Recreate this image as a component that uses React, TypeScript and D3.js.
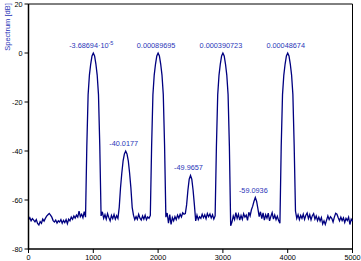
import React from "react";
import * as d3 from "d3";

const FREQ_STEP = 20;
const spectrum: number[] = [
  // 0 - 880 Hz
  -68.0, -67.2, -68.5, -67.6, -68.2, -68.9, -68.0, -69.6, -70.2, -68.8,
  -69.5, -67.8, -68.6, -67.5, -66.6, -66.0, -65.5, -66.2, -67.0, -68.4,
  -69.0, -68.2, -69.4, -68.5, -69.0, -68.0, -69.5, -68.3, -69.2, -68.0,
  -69.7, -67.8, -68.5, -67.0, -67.9, -66.5, -67.4, -66.2, -67.0, -64.5,
  -66.8, -65.8, -67.2, -64.8, -67.0,
  // 900 - 1100
  -38, -17, -9, -4.5, -1.2, 0, -1.2, -4.5, -9, -17, -38,
  // 1120 - 1380
  -66.5, -64.8, -67.5, -66.0, -67.8, -65.6, -67.2, -68.5, -66.3, -67.6,
  -65.9, -67.8, -66.4, -67.5,
  // 1400 - 1600
  -63, -55, -49, -44, -41.2, -40, -41.2, -44, -49, -55, -63,
  // 1620 - 1880
  -66.2, -68.0, -66.8, -67.9, -65.8, -67.4, -68.2, -66.5, -67.8, -66.2,
  -68.0, -66.9, -67.5, -66.3,
  // 1900 - 2100
  -38, -17, -9, -4.5, -1.2, 0, -1.2, -4.5, -9, -17, -38,
  // 2120 - 2420
  -67.0, -65.3, -69.5, -66.0, -70.0, -67.2, -68.5, -66.8, -68.0, -66.2,
  -67.4, -65.8, -66.9, -65.2, -65.8, -65.5,
  // 2440 - 2560
  -62, -56, -51.5, -50, -51.5, -56, -62,
  // 2580 - 2880
  -68.5, -66.2, -68.0, -66.8, -67.5, -65.8, -67.2, -66.0, -67.6, -65.5,
  -66.8, -65.7, -67.3, -66.0, -67.8, -66.5,
  // 2900 - 3100
  -38, -17, -9, -4.5, -1.2, 0, -1.2, -4.5, -9, -17, -38,
  // 3120 - 3400
  -70.5, -69.0, -66.5, -68.0, -65.2, -67.5, -65.8, -68.2, -66.3, -67.9,
  -65.6, -67.0, -66.2, -68.3, -65.0,
  // 3420 - 3580
  -66.5, -64.0, -62.5, -60.5, -59, -60.5, -63.5, -66.8, -64.8,
  // 3600 - 3880
  -67.6, -65.3, -68.2, -66.0, -67.4, -65.4, -68.5, -66.7, -65.2, -67.8,
  -66.1, -68.0, -66.6, -68.4, -69.5,
  // 3900 - 4100
  -38, -17, -9, -4.5, -1.2, 0, -1.2, -4.5, -9, -17, -38,
  // 4120 - 5000
  -64.5, -67.5, -66.0, -68.0, -66.3, -67.5, -65.8, -67.9, -66.2, -65.3,
  -67.6, -66.0, -68.1, -66.4, -65.6, -67.8, -66.5, -68.4, -67.0, -68.6,
  -67.2, -69.8, -68.5, -70.0, -68.2, -66.5, -68.0, -66.8, -67.5, -69.0,
  -67.0, -65.4, -65.8, -67.2, -68.5, -67.0, -68.4, -67.3, -69.2, -67.5,
  -68.4, -67.0, -70.0, -67.8, -68.6,
];

const peakFreqs = [1000, 1500, 2000, 2500, 3000, 3500, 4000];
const peakValues = [-3.68694e-5, -40.0177, 0.00089695, -49.9657, 0.000390723, -59.0936, 0.00048674];
const peakLabels = ["-3.68694·10^-5", "-40.0177", "0.00089695", "-49.9657", "0.000390723", "-59.0936", "0.00048674"];

const xTicks = [0, 1000, 2000, 3000, 4000, 5000];
const yTicks = [20, 0, -20, -40, -60, -80];

const W = 361;
const H = 261;
const FONT = "'Liberation Sans', Arial, sans-serif";
const LINE = "#000080";
const TEXTBLUE = "#2a36b8";

export default function App() {
  const x = d3.scaleLinear().domain([0, 5000]).range([28.5, 352.5]);
  const y = d3.scaleLinear().domain([-80, 20]).range([249, 4]);
  const line = d3
    .line<number>()
    .x((_, i) => x(i * FREQ_STEP))
    .y((d) => y(d));

  return (
    <svg
      width={W}
      height={H}
      style={{ position: "absolute", left: 0, top: 0, background: "#fff" }}
      fontFamily={FONT}
    >
      <rect x={0} y={0} width={W} height={H} fill="#fff" />
      {/* frame */}
      <line x1={x(0)} x2={x(5000)} y1={y(20)} y2={y(20)} stroke="#000" strokeWidth={1} />
      <line x1={x(5000)} x2={x(5000)} y1={y(20)} y2={y(-80)} stroke="#000" strokeWidth={1} />
      <path d={line(spectrum) || ""} fill="none" stroke={LINE} strokeWidth={1.3} strokeLinejoin="miter" />
      <line x1={x(0)} x2={x(0)} y1={y(20)} y2={y(-80) + 0.7} stroke="#000" strokeWidth={1.5} />
      <line x1={x(0)} x2={x(5000)} y1={y(-80)} y2={y(-80)} stroke="#000" strokeWidth={1.5} />
      {/* y ticks */}
      {yTicks.map((t) => (
        <g key={"y" + t}>
          <line x1={x(0) - 4} x2={x(0)} y1={y(t)} y2={y(t)} stroke="#000" strokeWidth={1} />
          <text x={x(0) - 6} y={y(t)} dy="0.35em" textAnchor="end" fontSize={7.3} fill="#000">
            {t}
          </text>
        </g>
      ))}
      {/* x ticks */}
      {xTicks.map((t) => (
        <g key={"x" + t}>
          <line x1={x(t)} x2={x(t)} y1={y(-80)} y2={y(-80) + 4} stroke="#000" strokeWidth={1} />
          <text x={x(t)} y={259.5} textAnchor="middle" fontSize={7.3} fill="#000">
            {t}
          </text>
        </g>
      ))}
      {/* y title */}
      <text
        transform={`translate(9.5, 27) rotate(-90)`}
        textAnchor="middle"
        fontSize={7.5}
        fill={TEXTBLUE}
      >
        Spectrum [dB]
      </text>
      {/* peak labels */}
      {peakFreqs.map((f, i) => {
        const parts = peakLabels[i].split("^");
        return (
          <text
            key={"p" + f}
            x={x(f) - 2}
            y={y(peakValues[i]) - 5}
            textAnchor="middle"
            fontSize={7.3}
            fill={TEXTBLUE}
          >
            {parts[0]}
            {parts[1] ? (
              <tspan dy={-3.5} fontSize={5.5}>
                {parts[1]}
              </tspan>
            ) : null}
          </text>
        );
      })}
    </svg>
  );
}
